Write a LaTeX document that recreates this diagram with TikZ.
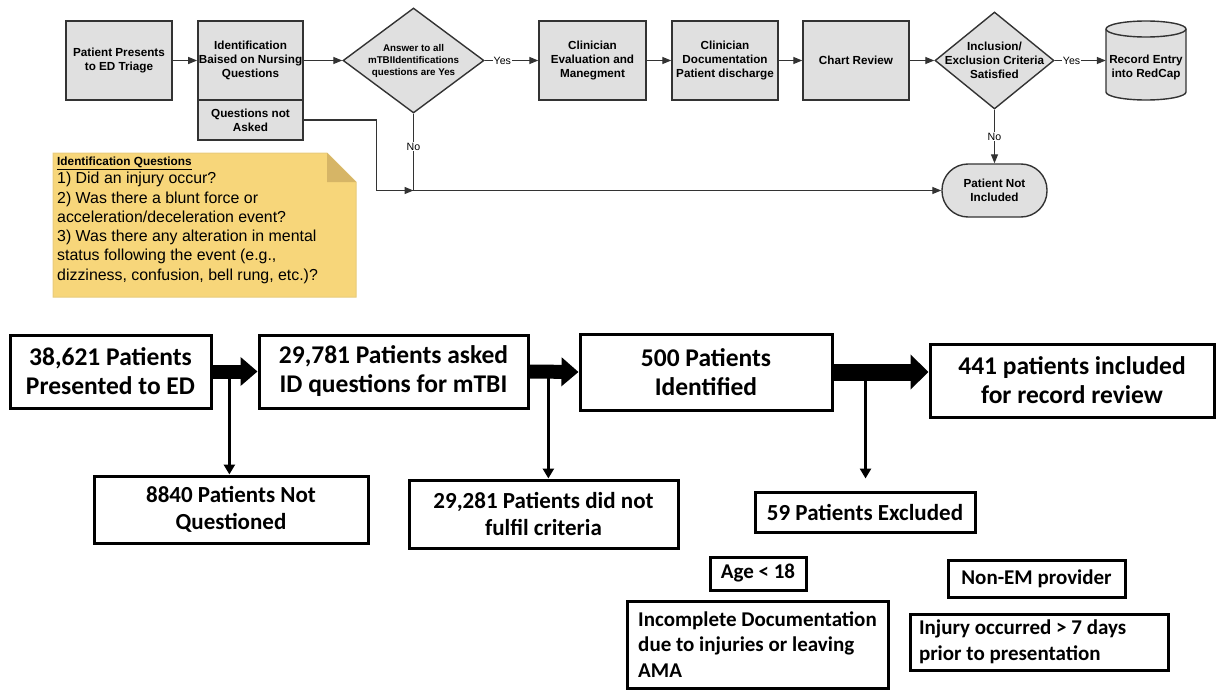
\documentclass[tikz,border=0pt]{standalone}
\usepackage{fontspec}
\setmainfont{Liberation Sans}
\newfontfamily\carlito{Carlito}
\usetikzlibrary{shapes.geometric,arrows.meta,calc}
\definecolor{boxgray}{HTML}{E0E0E0}
\definecolor{edgegray}{HTML}{333333}
\definecolor{notefill}{HTML}{F7D67A}
\definecolor{notefold}{HTML}{D6B566}
\definecolor{noteedge}{HTML}{E8CB7C}
\begin{document}
\begin{tikzpicture}[x=1pt,y=-1pt,
  fbox/.style={draw=edgegray, fill=boxgray, line width=1.4pt, inner sep=1pt, align=center,
    font=\fontsize{11.7}{14}\selectfont\bfseries},
  dia/.style={diamond, draw=edgegray, fill=boxgray, line width=1.4pt, inner sep=0pt},
  conn/.style={draw=edgegray, line width=1.3pt, -{Triangle[length=9pt,width=7pt]}},
  plain/.style={draw=edgegray, line width=1.3pt},
  lbl/.style={fill=white, inner sep=1pt, font=\fontsize{10.6}{12}\selectfont},
  bbox/.style={draw, line width=3pt, align=center, inner sep=0pt,
    font=\fontsize{25.5}{29}\selectfont\carlito\bfseries},
  sbox/.style={draw, line width=3pt, align=center, inner sep=0pt,
    font=\fontsize{23}{26.5}\selectfont\carlito\bfseries},
  cbox/.style={draw, line width=3pt, inner sep=0pt, align=flush left,
    font=\fontsize{21}{25.5}\selectfont\carlito\bfseries},
  blockarrow/.style={line width=#1pt, -{Triangle[length=17pt,width=28pt]}},
  dnarrow/.style={line width=2.7pt, -{Triangle[length=10pt,width=11pt]}}
]
\useasboundingbox (0,0) rectangle (1220,690);

% ---------------- top flowchart ----------------
\node[fbox, minimum width=106pt, minimum height=79pt] (p1) at (119,60.5) {Patient Presents\\to ED Triage};
\node[fbox, minimum width=105pt, minimum height=79pt] (p2) at (250.5,60.5) {Identification\\Baised on Nursing\\Questions};
\node[fbox, minimum width=105pt, minimum height=40pt] (qna) at (250.5,120) {Questions not\\Asked};
\node[dia, minimum width=141pt, minimum height=105pt,
  label={[align=center, inner sep=0pt, font=\fontsize{9.8}{12}\selectfont\bfseries]center:Answer to all\\mTBIIdentifications\\questions are Yes}] (d1) at (413.5,60.5) {};
\node[fbox, minimum width=107pt, minimum height=79pt] (p3) at (592.5,60.5) {Clinician\\Evaluation and\\Manegment};
\node[fbox, minimum width=106pt, minimum height=79pt] (p4) at (725,60.5) {Clinician\\Documentation\\Patient discharge};
\node[fbox, minimum width=106pt, minimum height=79pt] (p5) at (856,60.5) {Chart Review};
\node[dia, minimum width=119pt, minimum height=97pt,
  label={[align=center, inner sep=0pt, font=\fontsize{11.7}{14}\selectfont\bfseries]center:Inclusion/\\Exclusion Criteria\\Satisfied}] (d2) at (994.5,60.5) {};
% cylinder
\path[draw=edgegray, fill=boxgray, line width=1.4pt]
  (1106,29) -- (1106,92) arc[start angle=180, end angle=0, x radius=40, y radius=8]
  -- (1186,29) arc[start angle=0, end angle=-180, x radius=40, y radius=8] -- cycle;
\draw[edgegray, line width=1.4pt] (1106,29) arc[start angle=180, end angle=0, x radius=40, y radius=8];
\node[minimum width=80pt, minimum height=79pt, inner sep=0pt] (cyl) at (1146,60.5) {};
\node[align=center, inner sep=0pt, font=\fontsize{11.7}{14}\selectfont\bfseries] (cyltext) at (1146,67) {Record Entry\\into RedCap};
\node[fbox, minimum width=105pt, minimum height=53pt, rounded corners=26pt] (pni) at (994.5,190.5) {Patient Not\\Included};

\draw[conn] (p1) -- (p2);
\draw[conn] (p2) -- (d1);
\draw[conn] (d1) -- node[lbl, pos=0.33] {Yes} (p3);
\draw[conn] (p3) -- (p4);
\draw[conn] (p4) -- (p5);
\draw[conn] (p5) -- (d2);
\draw[conn] (d2) -- node[lbl, pos=0.33] {Yes} (cyl.west);
\draw[conn] (d2) -- node[lbl, pos=0.5] {No} (pni);
\coordinate (j) at (413.5,190.5);
\draw[plain] (d1.south) -- node[lbl, pos=0.43] {No} (j);
\draw[conn] (qna.east) -- ++(73,0) |- (j);
\draw[conn] (j) -- (j -| pni.west);

% note
\path[fill=notefill, draw=noteedge, line width=1pt] (53,153) -- (327,153) -- (356,182) -- (356,297) -- (53,297) -- cycle;
\path[fill=notefold] (327,153) -- (327,182) -- (356,182) -- cycle;
\node[anchor=base west, inner sep=0pt, font=\fontsize{11.8}{14}\selectfont\bfseries] (nt) at (57,165) {\underline{Identification Questions}};
\node[anchor=north west, inner sep=0pt, align=left, font=\fontsize{15.9}{19.3}\selectfont] (nb) at (57,172)
  {1) Did an injury occur?\\2) Was there a blunt force or\\acceleration/deceleration event?\\3) Was there any alteration in mental\\status following the event (e.g.,\\dizziness, confusion, bell rung, etc.)?};

% ---------------- bottom flow ----------------
\node[bbox, minimum width=201pt, minimum height=73pt] (B1) at (110.5,371.5) {38,621 Patients\\Presented to ED};
\node[bbox, minimum width=269pt, minimum height=73pt] (B2) at (393.5,371.5) {29,781 Patients asked\\ID questions for mTBI};
\node[bbox, minimum width=252pt, minimum height=76pt] (B3) at (706,372) {500 Patients\\Identified};
\node[bbox, minimum width=284pt, minimum height=73pt] (B4) at (1072,380.5) {441 patients included\\for record review};
\node[sbox, minimum width=274pt, minimum height=67pt] (S1) at (231,509.5) {8840 Patients Not\\Questioned};
\node[sbox, minimum width=269pt, minimum height=68pt] (S2) at (543.5,514) {29,281 Patients did not\\fulfil criteria};
\node[sbox, minimum width=220pt, minimum height=40pt] (S3) at (865,512) {59 Patients Excluded};
\node[cbox, minimum width=96pt, minimum height=33pt] (age) at (758,573.5) {Age < 18};
\node[cbox, minimum width=177pt, minimum height=37pt] (nonem) at (1036.5,578.5) {Non-EM provider};
\node[cbox, minimum width=261pt, minimum height=87pt] (inc) at (757.5,644.5) {Incomplete Documentation\\due to injuries or leaving\\AMA};
\node[cbox, minimum width=258pt, minimum height=56pt, text width=240pt] (inj) at (1039,642) {Injury occurred > 7 days\\prior to presentation};

\draw[blockarrow=14] (B1.east) -- (B2.west);
\draw[blockarrow=14] (B2.east) -- (B3.west);
\draw[line width=17pt, -{Triangle[length=18pt,width=34pt]}] (B3.east) -- (B3.east -| B4.west);

\coordinate (a1) at ($(B1.east)!0.375!(B2.west)$);
\coordinate (a2) at ($(B2.east)!0.385!(B3.west)$);
\coordinate (a3) at ($(B3.east)!0.337!(B4.west |- B3.east)$);
\draw[dnarrow] (a1) -- (a1 |- S1.north);
\draw[dnarrow] (a2) -- (a2 |- S2.north);
\draw[dnarrow, shorten >=12pt] (a3) -- (a3 |- S3.north);
\end{tikzpicture}
\end{document}
